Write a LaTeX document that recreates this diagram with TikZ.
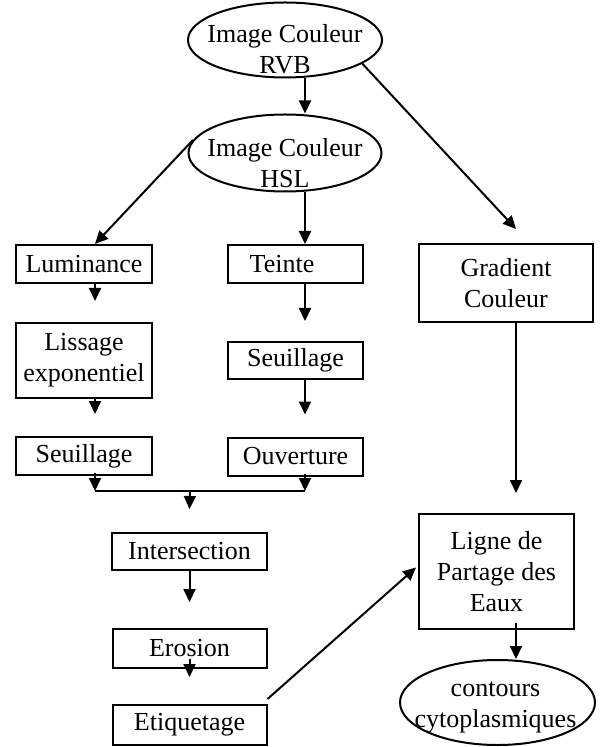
\documentclass[tikz,border=0pt]{standalone}
\usepackage{fontspec}
\setmainfont{Liberation Serif}
\usetikzlibrary{arrows.meta,shapes.geometric}

\begin{document}
\begin{tikzpicture}[x=0.5pt, y=-0.5pt]
	\tikzset{
		mybox/.style={rectangle, draw=black, line width=1pt, inner sep=0pt, align=center, font=\fontsize{13}{15.5}\selectfont},
		myoval/.style={ellipse, draw=black, line width=1pt, inner sep=0pt},
		mytext/.style={inner sep=0pt, align=center, font=\fontsize{13}{15.5}\selectfont},
		myarrow/.style={-{Triangle[length=6.5pt,width=6pt]}, line width=1pt},
		myline/.style={line width=1pt}
	}
	\useasboundingbox (0,0) rectangle (599,747);

	\node[myoval, minimum width=97pt, minimum height=37.5pt] (rvb) at (285,40) {};
	\node[mytext] (rvbText) at (285,49) {Image Couleur\\RVB};
	\node[myoval, minimum width=96.5pt, minimum height=38.5pt] (hsl) at (285,153) {};
	\node[mytext] (hslText) at (285,163.5) {Image Couleur\\HSL};

	\node[mybox, minimum width=68pt, minimum height=19pt] (lum) at (84,264) {Luminance};
	\node[mybox, minimum width=67.5pt, minimum height=19pt] (teinte) at (295.5,264) {Teinte\hspace{13.5pt}};
	\node[mybox, minimum width=68pt, minimum height=37.5pt] (lissage) at (84,360.5) {Lissage\\exponentiel};
	\node[mybox, minimum width=67.5pt, minimum height=18.5pt] (seuilR) at (295.5,360.5) {Seuillage};
	\node[mybox, minimum width=68pt, minimum height=19pt] (seuilL) at (84,456) {Seuillage};
	\node[mybox, minimum width=67.5pt, minimum height=19pt] (ouverture) at (295.5,456.5) {Ouverture};
	\node[mybox, minimum width=77.5pt, minimum height=18.5pt] (inter) at (189.5,551.5) {Intersection};
	\node[mybox, minimum width=77pt, minimum height=19.5pt] (erosion) at (189.5,648.5) {Erosion};
	\node[mybox, minimum width=77pt, minimum height=20pt] (etiq) at (189.5,725) {Etiquetage};
	\node[mybox, minimum width=87pt, minimum height=39pt] (gradient) at (506,283) {Gradient\\Couleur};
	\node[mybox, minimum width=77.5pt, minimum height=57.5pt] (ligne) at (496.5,571.5) {Ligne de\\Partage des\\Eaux};
	\node[myoval, minimum width=97.5pt, minimum height=42.5pt] (contours) at (497.5,702.5) {};
	\node[mytext] (contoursText) at (495.5,707.5) {contours\\cytoplasmiques};

	\coordinate (mL) at (95,491);
	\coordinate (mC) at (190,491);
	\coordinate (mR) at (305,491);

	\draw[myarrow] ([xshift=10pt]rvb.south) -- ([xshift=10pt]hsl.north);
	\draw[myarrow] (rvb.-17) -- ([xshift=5pt,yshift=7pt]gradient.north);
	\draw[myarrow] (hsl.172) -- ([xshift=5.5pt]lum.north);
	\draw[myarrow] ([xshift=10pt]hsl.south) -- ([xshift=4.75pt]teinte.north);
	\draw[myarrow] ([xshift=5.5pt]lum.south) -- ([xshift=5.5pt,yshift=10.5pt]lissage.north);
	\draw[myarrow] ([xshift=4.75pt]teinte.south) -- ([xshift=4.75pt,yshift=10pt]seuilR.north);
	\draw[myarrow] ([xshift=5.5pt]lissage.south) -- ([xshift=5.5pt,yshift=11pt]seuilL.north);
	\draw[myarrow] ([xshift=4.75pt]seuilR.south) -- ([xshift=4.75pt,yshift=11pt]ouverture.north);
	\draw[myarrow] ([xshift=5.5pt,yshift=1.5pt]seuilL.south) -- (mL);
	\draw[myarrow] ([xshift=4.75pt,yshift=1.5pt]ouverture.south) -- (mR);
	\draw[myline] (mL) -- (mR);
	\draw[myarrow] (mC) -- ([yshift=11.5pt]inter.north);
	\draw[myarrow] (inter.south) -- ([yshift=13pt]erosion.north);
	\draw[myarrow] ([yshift=-5pt]erosion.center) -- ([yshift=13.5pt]etiq.north);
	\draw[myarrow] ([yshift=2.5pt]etiq.north east) -- ([xshift=-1pt,yshift=2pt]ligne.west);
	\draw[myarrow] ([xshift=5pt]gradient.south) -- ([xshift=9.75pt,yshift=10pt]ligne.north);
	\draw[myarrow] ([xshift=9.75pt,yshift=3.5pt]ligne.south) -- ([xshift=9.25pt]contours.north);
\end{tikzpicture}
\end{document}
